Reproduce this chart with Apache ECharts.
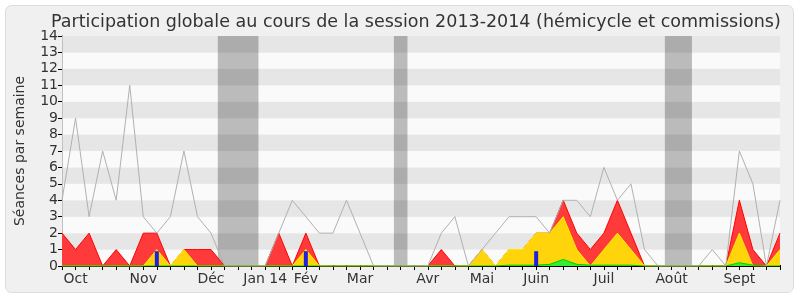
<!DOCTYPE html>
<html>
<head>
<meta charset="utf-8">
<script src="https://cdn.jsdelivr.net/npm/echarts@6/dist/echarts.min.js"></script>
<style>
html,body{margin:0;padding:0;background:#ffffff;}
#c{width:800px;height:300px;}
</style>
</head>
<body>
<div id="c"></div>
<script>
// Week-by-week data, session 2013-2014 (54 weeks)
var weekLabels = ['', 'Oct', '', '', '', '', 'Nov', '', '', '', '', 'Déc', '', '', '', 'Jan 14', '', '', 'Fév', '', '', '', 'Mar', '', '', '', '', 'Avr', '', '', '', 'Mai', '', '', '', 'Juin', '', '', '', '', 'Juil', '', '', '', '', 'Août', '', '', '', '', 'Sept', '', '', ''];
var totalSeances = [4, 9, 3, 7, 4, 11, 3, 2, 3, 7, 3, 2, 0, 0, 0, 0, 2, 4, 3, 2, 2, 4, 2, 0, 0, 0, 0, 0, 2, 3, 0, 1, 2, 3, 3, 3, 2, 4, 4, 3, 6, 4, 5, 1, 0, 0, 0, 0, 1, 0, 7, 5, 0, 4];
var presences = [2, 1, 2, 0, 1, 0, 2, 2, 0, 1, 1, 1, 0, 0, 0, 0, 2, 0, 2, 0, 0, 0, 0, 0, 0, 0, 0, 0, 1, 0, 0, 1, 0, 1, 1, 2, 2, 4, 2, 1, 2, 4, 2, 0, 0, 0, 0, 0, 0, 0, 4, 1, 0, 2];
var presencesHemicycle = [0, 0, 0, 0, 0, 0, 0, 1, 0, 1, 0, 0, 0, 0, 0, 0, 0, 0, 1, 0, 0, 0, 0, 0, 0, 0, 0, 0, 0, 0, 0, 1, 0, 1, 1, 2, 2, 3, 1, 0, 1, 2, 1, 0, 0, 0, 0, 0, 0, 0, 2, 0, 0, 1];
var interventions = [0, 0, 0, 0, 0, 0, 0, 0, 0, 0, 0, 0, 0, 0, 0, 0, 0, 0, 0, 0, 0, 0, 0, 0, 0, 0, 0, 0, 0, 0, 0, 0, 0, 0.05, 0.05, 0.05, 0.1, 0.4, 0.1, 0.05, 0.05, 0.05, 0.05, 0, 0, 0, 0, 0, 0, 0, 0.2, 0.05, 0, 0];
var questions = [0, 0, 0, 0, 0, 0, 0, 0.9, 0, 0, 0, 0, 0, 0, 0, 0, 0, 0, 0.9, 0, 0, 0, 0, 0, 0, 0, 0, 0, 0, 0, 0, 0, 0, 0, 0, 0.9, 0, 0, 0, 0, 0, 0, 0, 0, 0, 0, 0, 0, 0, 0, 0, 0, 0, 0];
var vacances = [[11.5, 14.5], [24.5, 25.5], [44.5, 46.5]];
var yTicks = [0, 1, 2, 3, 4, 5, 6, 7, 8, 9, 10, 11, 12, 13, 14];

function pairs(arr) { return arr.map(function (v, i) { return [i, v]; }); }
var barData = [];
questions.forEach(function (v, i) { if (v > 0) barData.push([i, v]); });

var chart = echarts.init(document.getElementById('c'), null, {renderer: 'canvas'});
var font = 'DejaVu Sans';
var option = {
  backgroundColor: 'transparent',
  animation: false,
  graphic: [{
    type: 'rect', z: -10, silent: true,
    shape: {x: 5.5, y: 5.5, width: 788, height: 287, r: 6},
    style: {fill: '#f0f0f0', stroke: '#dcdcdc', lineWidth: 1}
  }],
  title: {
    text: 'Participation globale au cours de la session 2013-2014 (hémicycle et commissions)',
    left: 46, top: 8,
    textStyle: {fontFamily: font, fontSize: 17.5, fontWeight: 'normal', color: '#333333'}
  },
  grid: {left: 62, right: 20, top: 36, bottom: 34, containLabel: false},
  xAxis: [{
    type: 'value', min: 0, max: weekLabels.length - 1, interval: 1,
    axisLine: {show: true, onZero: false, lineStyle: {color: '#000', width: 1}},
    axisTick: {show: true, length: 4, lineStyle: {color: '#000'}},
    splitLine: {show: false},
    axisLabel: {
      fontFamily: font, fontSize: 14, color: '#333', margin: 6,
      showMinLabel: true, showMaxLabel: true,
      formatter: function (v) { return weekLabels[Math.round(v)] || ''; }
    }
  }, {
    type: 'value', position: 'top', min: 0, max: weekLabels.length - 1, interval: 1,
    axisLine: {show: false},
    axisTick: {show: true, length: 1, lineStyle: {color: '#000'}},
    axisLabel: {show: false}, splitLine: {show: false}
  }],
  yAxis: [{
    type: 'value', min: 0, max: 14, interval: 1,
    name: 'Séances par semaine', nameLocation: 'middle', nameGap: 35,
    nameTextStyle: {fontFamily: font, fontSize: 14, color: '#333'},
    axisLine: {show: true, lineStyle: {color: '#000'}},
    axisTick: {show: true, length: 4, lineStyle: {color: '#000'}},
    axisLabel: {fontFamily: font, fontSize: 14, color: '#333', margin: 4,
      formatter: function (v) { return yTicks.indexOf(v) >= 0 ? String(v) : ''; }},
    splitLine: {show: false},
    splitArea: {show: true, areaStyle: {color: ['#fafafa', '#e6e6e6']}}
  }, {
    type: 'value', min: 0, max: 14, interval: 1, position: 'right',
    axisLine: {show: true, lineStyle: {color: '#c0c0c0'}},
    axisTick: {show: false}, axisLabel: {show: false}, splitLine: {show: false}
  }],
  series: [
    {
      name: 'vacances', type: 'line', data: [], symbol: 'none',
      markArea: {silent: true, itemStyle: {color: 'rgba(0,0,0,0.25)'},
        data: vacances.map(function (v) { return [{xAxis: v[0]}, {xAxis: v[1]}]; })}
    },
    {
      name: 'présences', type: 'line', data: pairs(presences), symbol: 'none',
      lineStyle: {color: '#ff0000', width: 1}, areaStyle: {color: '#ff3a3a', opacity: 1}, z: 2
    },
    {
      name: 'hémicycle', type: 'line', data: pairs(presencesHemicycle), symbol: 'none',
      lineStyle: {color: '#ffee00', width: 1}, areaStyle: {color: '#ffd40a', opacity: 1}, z: 3
    },
    {
      name: 'interventions', type: 'line', data: pairs(interventions), symbol: 'none',
      lineStyle: {color: '#00cc00', width: 1}, areaStyle: {color: '#33ee33', opacity: 1}, z: 4
    },
    {
      name: 'questions', type: 'bar', data: barData, barWidth: 4,
      itemStyle: {color: '#2020dd'}, z: 5
    },
    {
      name: 'total', type: 'line', data: pairs(totalSeances), symbol: 'none',
      lineStyle: {color: '#b0b0b0', width: 1}, z: 6
    }
  ]
};
chart.setOption(option);
</script>
</body>
</html>
